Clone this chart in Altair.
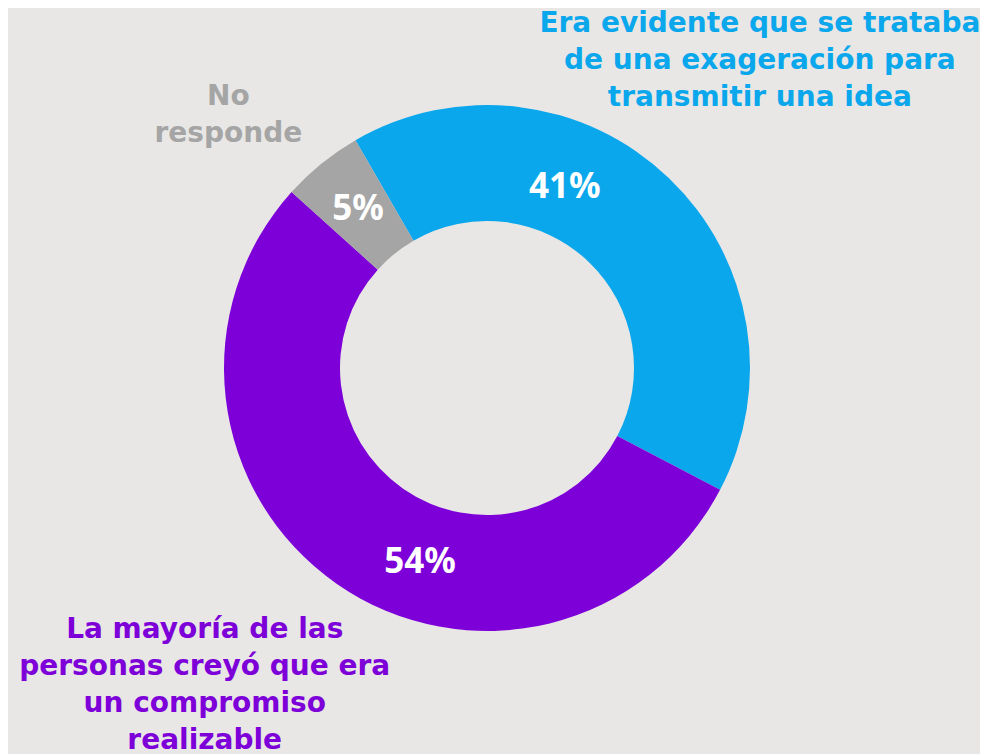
import math
import altair as alt
import pandas as pd

categories = [
    "Era evidente que se trataba de una exageración para transmitir una idea",
    "La mayoría de las personas creyó que era un compromiso realizable",
    "No responde",
]
label_lines = [
    "Era evidente que se trataba\nde una exageración para\ntransmitir una idea",
    "La mayoría de las\npersonas creyó que era\nun compromiso\nrealizable",
    "No\nresponde",
]
values = [41, 54, 5]
pct_labels = ["41%", "54%", "5%"]
colors = ["#0ba7ec", "#7e00d9", "#a5a5a5"]

df = pd.DataFrame({
    "idx": list(range(len(categories))),
    "cat": categories,
    "label": label_lines,
    "value": values,
    "pct": pct_labels,
})

LABEL_FONT = "DejaVu Sans"
PCT_FONT = "Noto Sans"
start = -math.pi / 6
theta_scale = alt.Scale(type="linear", domain=[0, sum(values)], range=[start, start + 2 * math.pi])
color_scale = alt.Scale(domain=categories, range=colors)

arc = alt.Chart(df).mark_arc(radius=263, radius2=147, stroke=None).encode(
    theta=alt.Theta("value:Q", stack=True, scale=theta_scale),
    order=alt.Order("idx:Q"),
    color=alt.Color("cat:N", scale=color_scale, legend=None),
)

text_base = alt.Chart(df).transform_window(
    cum="sum(value)", sort=[alt.SortField("idx")], frame=[None, 0]
).transform_calculate(
    mid="datum.cum - datum.value / 2"
).encode(
    theta=alt.Theta("mid:Q", scale=theta_scale, stack=None),
)

def pct_layer(i, dx, dy):
    return text_base.transform_filter(alt.datum.idx == i).mark_text(
        radius=205, dx=dx, dy=dy, font=PCT_FONT, fontWeight="bold", fontSize=35,
        color="white", align="center", baseline="middle",
    ).encode(text="pct:N")

def cat_layer(i, r, dx, dy):
    return text_base.transform_filter(alt.datum.idx == i).mark_text(
        radius=r, dx=dx, dy=dy, font=LABEL_FONT, fontWeight="bold", fontSize=28,
        lineBreak="\n", lineHeight=37, align="center", baseline="middle",
    ).encode(text="label:N", color=alt.Color("cat:N", scale=color_scale, legend=None))

chart = alt.layer(
    arc,
    pct_layer(0, -64, -33),
    pct_layer(1, 50, 26),
    pct_layer(2, 0, 0),
    cat_layer(0, 400, -4, -55),
    cat_layer(1, 400, -54, -66),
    cat_layer(2, 330, -51, -15),
).properties(
    width=958, height=720,
    padding={"left": 0, "top": 0, "right": 14, "bottom": 26},
    autosize=alt.AutoSizeParams(type="none"),
    background="#e8e7e5",
).configure_view(stroke=None)

chart.save("out.html", embed_options={"renderer": "svg", "actions": False})
